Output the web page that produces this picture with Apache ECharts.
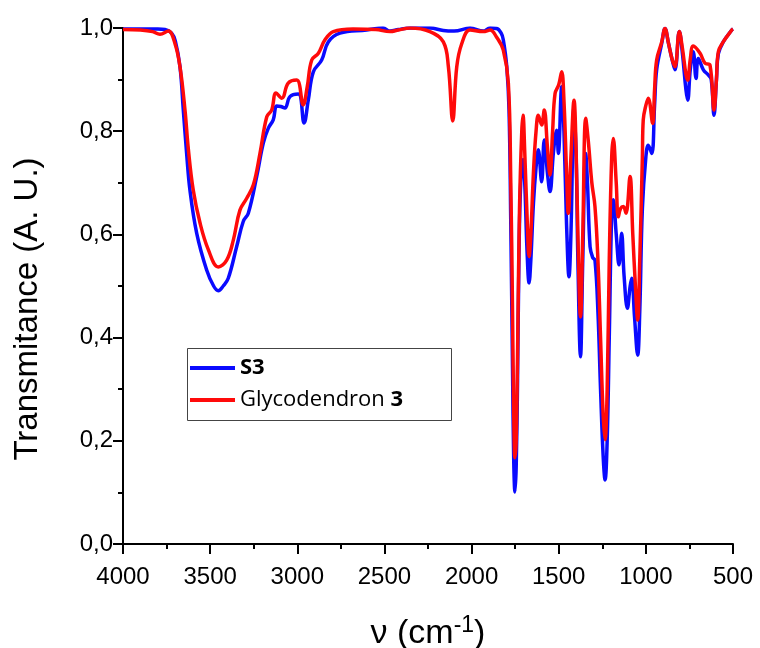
<!DOCTYPE html>
<html>
<head>
<meta charset="utf-8">
<script src="https://cdn.jsdelivr.net/npm/echarts@6/dist/echarts.min.js"></script>
<style>html,body{margin:0;padding:0;background:#fff}#c{width:760px;height:648px}</style>
</head>
<body>
<div id="c"></div>
<script>
// Wavenumbers (cm-1) and transmittance
const s3Wn = [4000,3900,3800,3759,3721,3700,3673,3654,3635,3616,3577,3520,3480,3453,3425,3396,3348,3310,3281,3233,3195,3166,3138,3118,3095,3071,3042,2994,2961,2937,2908,2860,2822,2755,2602,2508,2468,2420,2353,2239,2162,2100,2009,1933,1894,1856,1830,1818,1798,1785,1775,1765,1758,1751,1744,1736,1728,1718,1705,1695,1682,1670,1660,1645,1630,1617,1598,1583,1565,1550,1530,1512,1502,1483,1470,1455,1441,1430,1412,1400,1390,1375,1362,1345,1335,1320,1305,1292,1275,1260,1245,1234,1222,1210,1196,1187,1170,1154,1139,1125,1106,1090,1081,1065,1047,1035,1020,1000,986,966,950,938,909,890,870,850,833,808,790,770,760,745,728,712,699,670,642,625,609,595,584,556,507,500];
const s3T  = [0.998,0.998,0.998,0.997,0.990,0.975,0.925,0.841,0.757,0.686,0.602,0.531,0.500,0.491,0.500,0.515,0.576,0.625,0.641,0.712,0.777,0.806,0.822,0.849,0.848,0.845,0.867,0.872,0.816,0.860,0.915,0.938,0.973,0.990,0.996,1.000,0.994,0.997,1.000,1.000,0.995,0.994,1.000,0.994,1.000,0.999,0.990,0.977,0.925,0.840,0.620,0.340,0.160,0.101,0.150,0.320,0.560,0.700,0.745,0.700,0.570,0.506,0.550,0.660,0.730,0.764,0.702,0.783,0.720,0.683,0.760,0.802,0.757,0.886,0.800,0.620,0.518,0.600,0.847,0.750,0.550,0.363,0.550,0.757,0.700,0.576,0.555,0.550,0.450,0.300,0.170,0.124,0.200,0.400,0.640,0.667,0.600,0.541,0.602,0.520,0.457,0.500,0.515,0.440,0.366,0.450,0.650,0.750,0.773,0.757,0.850,0.919,0.970,0.999,0.970,0.940,0.919,0.993,0.950,0.880,0.860,0.920,0.954,0.902,0.941,0.919,0.909,0.900,0.831,0.900,0.950,0.973,0.996,0.998];

const glyWn = [4000,3900,3830,3788,3740,3702,3673,3644,3625,3597,3558,3510,3453,3405,3367,3329,3290,3252,3214,3175,3147,3122,3089,3052,3003,2966,2943,2917,2879,2841,2793,2680,2550,2468,2420,2353,2239,2162,2133,2108,2085,2057,2009,1933,1894,1856,1818,1789,1775,1765,1758,1751,1744,1735,1725,1712,1705,1695,1680,1670,1660,1645,1630,1617,1598,1583,1565,1550,1535,1521,1500,1483,1470,1455,1445,1430,1412,1400,1390,1375,1362,1345,1330,1310,1292,1275,1260,1245,1234,1222,1210,1196,1187,1170,1158,1145,1129,1114,1091,1075,1060,1047,1035,1020,1015,1000,986,961,950,938,909,890,870,850,833,808,790,770,760,745,728,689,661,632,609,595,584,556,507,500];
const glyT  = [0.997,0.996,0.993,0.988,0.994,0.970,0.925,0.840,0.765,0.686,0.622,0.570,0.537,0.550,0.589,0.647,0.670,0.696,0.757,0.828,0.841,0.874,0.864,0.893,0.899,0.851,0.886,0.938,0.951,0.977,0.993,0.998,0.997,0.993,0.996,1.000,0.993,0.973,0.925,0.820,0.925,0.969,0.996,0.993,0.996,0.982,0.957,0.893,0.700,0.450,0.250,0.167,0.200,0.400,0.650,0.800,0.831,0.760,0.620,0.557,0.600,0.720,0.800,0.831,0.812,0.841,0.770,0.715,0.800,0.873,0.890,0.915,0.860,0.720,0.641,0.750,0.860,0.760,0.600,0.440,0.600,0.825,0.780,0.700,0.654,0.550,0.400,0.250,0.202,0.300,0.550,0.750,0.786,0.700,0.634,0.650,0.654,0.641,0.712,0.600,0.500,0.434,0.550,0.750,0.822,0.850,0.864,0.815,0.880,0.938,0.973,0.999,0.970,0.940,0.925,0.993,0.960,0.910,0.899,0.940,0.965,0.951,0.932,0.928,0.841,0.900,0.954,0.973,0.996,0.998];

const xTicks = [4000,3500,3000,2500,2000,1500,1000,500];
const yTicks = [0,0.2,0.4,0.6,0.8,1.0];
const seriesNames = ['S3','Glycodendron 3'];
const yTitle = 'Transmitance (A. U.)';

const pair = (xs, ys) => xs.map((x, i) => [x, ys[i]]);

const chart = echarts.init(document.getElementById('c'), null, {renderer: 'canvas'});
const axisBlack = {lineStyle: {color: '#000', width: 2}};
chart.setOption({
  animation: false,
  backgroundColor: '#fff',
  grid: {left: 123, right: 27, top: 28, bottom: 104, containLabel: false, outerBoundsMode: 'none'},
  xAxis: {
    type: 'value', inverse: true, min: 500, max: 4000, interval: 500,
    axisLine: {show: true, onZero: false, ...axisBlack},
    axisTick: {show: true, length: 10, inside: false, lineStyle: {color: '#000', width: 2}},
    minorTick: {show: true, splitNumber: 2, length: 5, lineStyle: {color: '#000', width: 2}},
    splitLine: {show: false},
    axisLabel: {color: '#000', fontSize: 24, fontFamily: 'Liberation Sans, Arial', margin: 21,
      formatter: v => xTicks.includes(v) ? String(v) : ''},
    name: '{a|ν (cm}{s|-1}{a|)}',
    nameLocation: 'middle', nameGap: 70,
    nameTextStyle: {rich: {
      a: {fontSize: 34, fontFamily: 'Liberation Sans, Arial', color: '#000'},
      s: {fontSize: 23, fontFamily: 'Liberation Sans, Arial', color: '#000', padding: [0, 0, 17, 0]}
    }}
  },
  yAxis: {
    type: 'value', min: 0, max: 1, interval: 0.2,
    axisLine: {show: true, ...axisBlack},
    axisTick: {show: true, length: 10, inside: false, lineStyle: {color: '#000', width: 2}},
    minorTick: {show: true, splitNumber: 2, length: 5, lineStyle: {color: '#000', width: 2}},
    splitLine: {show: false},
    axisLabel: {color: '#000', fontSize: 24, fontFamily: 'Liberation Sans, Arial', margin: 10,
      formatter: v => v.toFixed(1).replace('.', ',')}
  },
  legend: {
    orient: 'vertical', left: 190, top: 357, itemWidth: 45, itemHeight: 4, itemGap: 10,
    icon: 'rect', padding: 0,
    data: seriesNames,
    formatter: n => n === 'S3' ? '{b|S3}' : 'Glycodendron {b|3}',
    textStyle: {fontSize: 22, fontFamily: 'Open Sans', color: '#000', lineHeight: 22,
      rich: {b: {fontSize: 22, fontWeight: 'bold', fontFamily: 'Open Sans', color: '#000', lineHeight: 22}}}
  },
  graphic: [
    {type: 'rect', z: 100, silent: true,
      shape: {x: 187.5, y: 348.5, width: 264, height: 72},
      style: {fill: 'none', stroke: '#444', lineWidth: 1}},
    {type: 'text', x: 28, y: 309, rotation: Math.PI / 2, silent: true,
      style: {text: yTitle, fontSize: 33, fontFamily: 'Liberation Sans, Arial', fill: '#000',
        align: 'center', verticalAlign: 'middle'}}
  ],
  series: [
    {name: seriesNames[0], type: 'line', data: pair(s3Wn, s3T), showSymbol: false, smooth: 0.4,
      lineStyle: {color: '#0a0aff', width: 3.5}, itemStyle: {color: '#0a0aff'}, z: 2},
    {name: seriesNames[1], type: 'line', data: pair(glyWn, glyT), showSymbol: false, smooth: 0.4,
      lineStyle: {color: '#ff0a0a', width: 3.5}, itemStyle: {color: '#ff0a0a'}, z: 3}
  ]
});
</script>
</body>
</html>
